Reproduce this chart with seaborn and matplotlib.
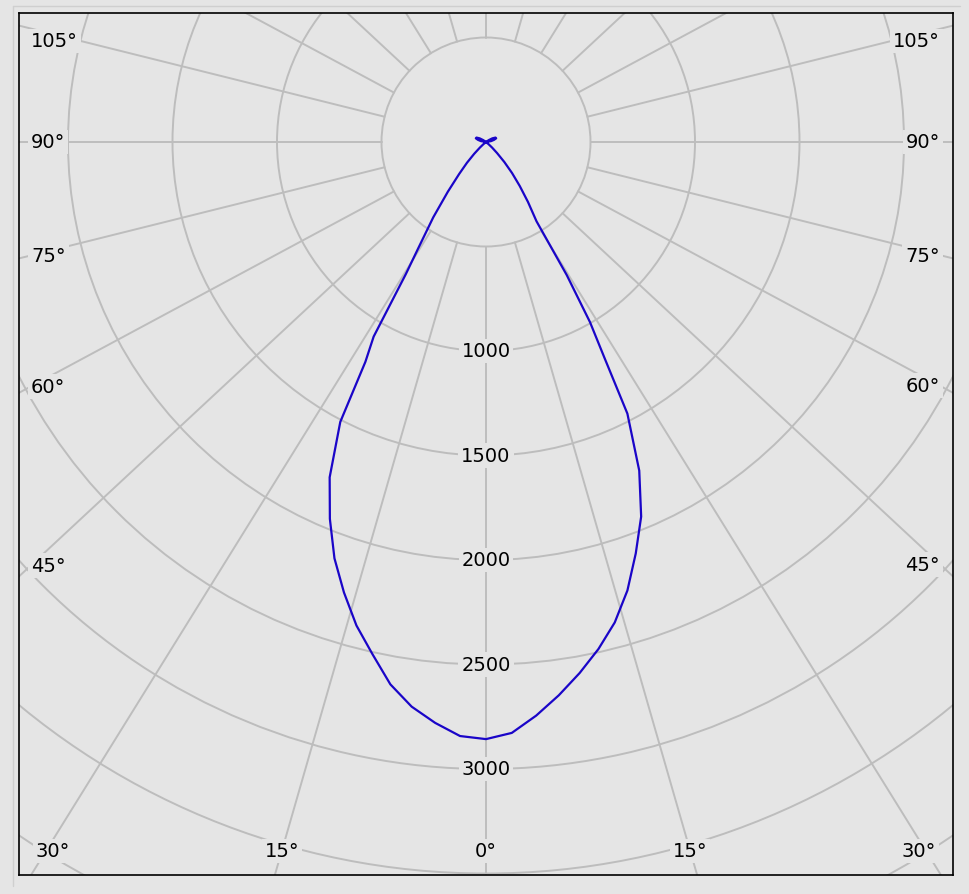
import numpy as np
import pandas as pd
import matplotlib.pyplot as plt
from matplotlib.lines import Line2D
import seaborn as sns

# Luminous intensity (cd) against gamma angle, for the two half planes
gamma = [0, 2.5, 5, 7.5, 10, 12.5, 15, 17.5, 20, 22.5, 25, 27.5, 28.75, 30, 31.25,
         32.5, 35, 37.5, 40, 42.5, 45, 47.5, 50, 55, 60, 65, 70, 75, 80, 90]
cd_right = [2857, 2830, 2755, 2670, 2580, 2485, 2380, 2250, 2095, 1940, 1735, 1465, 1180, 995, 745,
            450, 350, 265, 194, 130, 75, 40, 15, -15, -35, -50, -52, -40, -25, 0]
cd_left = [2857, 2845, 2790, 2725, 2635, 2510, 2395, 2260, 2120, 1952, 1770, 1510, 1200, 1075, 740,
           605, 440, 300, 200, 135, 80, 40, 15, -15, -35, -50, -52, -40, -25, 0]

ring_values = [500, 1000, 1500, 2000, 2500, 3000, 3500, 4000, 4500]
ring_labels = [1000, 1500, 2000, 2500, 3000]
spoke_angles = list(range(0, 360, 15))
bottom_angle_labels = [0, 15, 30]
side_angle_labels = [45, 60, 75, 90, 105]

bg = "#e5e5e5"
grid_col = "#bdbdbd"
curve_col = "#1a05c8"

sns.set_theme(style="white")
plt.rcParams["font.family"] = ["DejaVu Sans"]

W, H = 969, 895
fig = plt.figure(figsize=(W / 100, H / 100), dpi=100, facecolor=bg)
ax = fig.add_axes([19 / W, 19 / H, 934 / W, 862 / H])
ax.set_facecolor(bg)

# pixel geometry of the plot
px = 500 / 104.5          # cd per pixel
cx, cy = 486, 143         # centre in image pixels
x0, x1 = (19 - cx) * px, (953 - cx) * px
y0, y1 = -(876 - cy) * px, (cy - 14) * px
ax.set_xlim(x0, x1)
ax.set_ylim(y0, y1)

# rings
for r in ring_values:
    ax.add_patch(plt.Circle((0, 0), r, fill=False, ec=grid_col, lw=1.4, zorder=1))

# spokes (drawn slightly stretched sideways like the original)
sx = 1.075
for a in spoke_angles:
    t = np.radians(a)
    ux, uy = sx * np.sin(t), -np.cos(t)
    n = np.hypot(ux, uy)
    ux, uy = ux / n, uy / n
    ax.plot([500 * ux, 8000 * ux], [500 * uy, 8000 * uy], color=grid_col, lw=1.4, zorder=1)

# curve
g = np.radians(gamma)
xl = -np.array(cd_left) * np.sin(g)
yl = -np.array(cd_left) * np.cos(g)
xr = np.array(cd_right) * np.sin(g)
yr = -np.array(cd_right) * np.cos(g)
df = pd.DataFrame({
    "x": np.concatenate([xl[::-1], xr]),
    "y": np.concatenate([yl[::-1], yr]),
})
sns.lineplot(data=df, x="x", y="y", sort=False, estimator=None,
             color=curve_col, lw=1.6, ax=ax, zorder=3)

box = dict(boxstyle="square,pad=0.15", fc=bg, ec="none")
fs = 14

# ring labels along the 0 degree line
for v in ring_labels:
    ax.text(0, -v, str(v), ha="center", va="center", fontsize=fs, color="black",
            bbox=box, zorder=4)

# side angle labels
lx_left = (31 - cx) * px
lx_right = (940 - cx) * px
y_top = (cy - 42) * px
for a in side_angle_labels:
    t = np.radians(a)
    for side, xpos, ha in [(-1, lx_left, "left"), (1, lx_right, "right")]:
        k = abs(xpos) / (sx * np.sin(t))
        ypos = min(-np.cos(t) * k, y_top)
        ax.text(xpos, ypos, f"{a}°", ha=ha, va="center", fontsize=fs,
                color="black", bbox=box, zorder=4)

# bottom angle labels
y_bot = -(852 - cy) * px
x_lim_lab = (486 - 53) * px
for a in bottom_angle_labels:
    t = np.radians(a)
    k = -y_bot / np.cos(t)
    xpos = min(sx * np.sin(t) * k, x_lim_lab)
    for side in ([1] if a == 0 else [-1, 1]):
        ax.text(side * xpos, y_bot, f"{a}°", ha="center", va="center", fontsize=fs,
                color="black", bbox=box, zorder=4)

ax.set_xticks([])
ax.set_yticks([])
ax.set_xlabel("")
ax.set_ylabel("")
for s in ax.spines.values():
    s.set_visible(True)
    s.set_color("black")
    s.set_linewidth(1.2)

# faint outer frame lines
fig.add_artist(Line2D([13 / W, 13 / W], [1 - 7 / H, 1 - 887 / H], color="#cfcfcf", lw=1))
fig.add_artist(Line2D([13 / W, 960 / W], [1 - 7 / H, 1 - 7 / H], color="#cfcfcf", lw=1))

fig.savefig("out.png", dpi=100, facecolor=bg)
